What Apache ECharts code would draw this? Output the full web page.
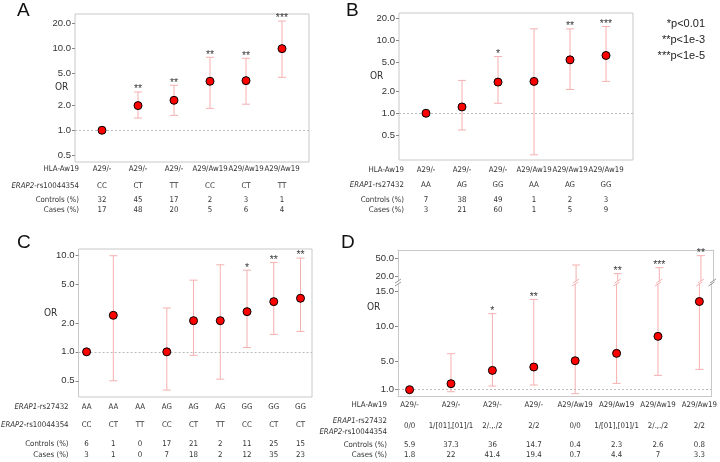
<!DOCTYPE html>
<html>
<head>
<meta charset="utf-8">
<script src="https://cdn.jsdelivr.net/npm/echarts@6/dist/echarts.min.js"></script>
<style>html,body{margin:0;padding:0;background:#fff}#chart{width:720px;height:462px}</style>
</head>
<body>
<div id="chart"></div>
<script>
// panel A
var aHla = ['A29/-', 'A29/-', 'A29/-', 'A29/Aw19', 'A29/Aw19', 'A29/Aw19'];
var aGeno = ['CC', 'CT', 'TT', 'CC', 'CT', 'TT'];
var aControls = ['32', '45', '17', '2', '3', '1'];
var aCases = ['17', '48', '20', '5', '6', '4'];
var aOR = [1.0, 2.0, 2.32, 3.96, 4.03, 9.9];
var aLow = [null, 1.41, 1.52, 1.85, 2.08, 4.43];
var aHigh = [null, 2.93, 3.54, 7.77, 7.55, 21.5];
var aStars = ['', '**', '**', '**', '**', '***'];

// panel B
var bHla = ['A29/-', 'A29/-', 'A29/-', 'A29/Aw19', 'A29/Aw19', 'A29/Aw19'];
var bGeno = ['AA', 'AG', 'GG', 'AA', 'AG', 'GG'];
var bControls = ['7', '38', '49', '1', '2', '3'];
var bCases = ['3', '21', '60', '1', '5', '9'];
var bOR = [1.0, 1.22, 2.67, 2.73, 5.39, 6.18];
var bLow = [null, 0.59, 1.37, 0.27, 2.12, 2.73];
var bHigh = [null, 2.82, 5.99, 14.3, 14.3, 15.4];
var bStars = ['', '', '*', '', '**', '***'];

// panel C
var cErap1 = ['AA', 'AA', 'AA', 'AG', 'AG', 'AG', 'GG', 'GG', 'GG'];
var cErap2 = ['CC', 'CT', 'TT', 'CC', 'CT', 'TT', 'CC', 'CT', 'CT'];
var cControls = ['6', '1', '0', '17', '21', '2', '11', '25', '15'];
var cCases = ['3', '1', '0', '7', '18', '2', '12', '35', '23'];
var cOR = [1.0, 2.40, null, 1.0, 2.11, 2.11, 2.62, 3.33, 3.61];
var cLow = [null, 0.50, null, 0.40, 0.92, 0.52, 1.11, 1.52, 1.63];
var cHigh = [null, 10.0, null, 2.86, 5.57, 8.05, 7.08, 8.52, 9.45];
var cStars = ['', '', '', '', '', '', '*', '**', '**'];

// panel D
var dHla = ['A29/-', 'A29/-', 'A29/-', 'A29/-', 'A29/Aw19', 'A29/Aw19', 'A29/Aw19', 'A29/Aw19'];
var dGeno = ['0/0', '1/[01],[01]/1', '2/.,./2', '2/2', '0/0', '1/[01],[01]/1', '2/.,./2', '2/2'];
var dControls = ['5.9', '37.3', '36', '14.7', '0.4', '2.3', '2.6', '0.8'];
var dCases = ['1.8', '22', '41.4', '19.4', '0.7', '4.4', '7', '3.3'];
var dOR = [1.0, 1.86, 3.76, 4.24, 5.14, 6.19, 8.62, 13.6];
var dLow = [null, 0.71, 1.52, 1.67, 0.43, 1.90, 3.05, 3.9];
var dHigh = [null, 6.14, 11.86, 13.9, 35.8, 23.2, 31.3, 57.0];
var dStars = ['', '', '*', '**', '', '**', '***', '**'];

var logTicks = [0.5, 1, 2, 5, 10, 20];
var dLowerTicks = [1, 5, 10, 15];
var dUpperTicks = [20, 50];
var sigNotes = ['*p<0.01', '**p<1e-3', '***p<1e-5'];

var FONT = '"Liberation Sans", Arial, sans-serif';
var NARROW = '"DejaVu Sans Condensed", "Liberation Sans Narrow", sans-serif';
var errColor = '#f5b0b0';
var boxColor = '#c8c8c8';
var BREAK = 16.1; // top of the linear part of D

var grid = [], xAxis = [], yAxis = [], series = [];

function idx(n) {
    var a = [];
    for (var i = 0; i < n; i++) a.push(i);
    return a;
}

function slash(x, y, color) {
    return {type: 'line', shape: {x1: x - 3, y1: y + 2, x2: x + 3, y2: y - 2}, style: {stroke: color, lineWidth: 1}};
}

// error bar, clipped to the grid; a clipped end gets a break mark
function renderErr(params, api) {
    var cs = params.coordSys;
    var x = api.value(0);
    var top = api.coord([x, api.value(2)]);
    var bot = api.coord([x, api.value(1)]);
    var px = top[0];
    var y1 = Math.max(top[1], cs.y), y2 = Math.min(bot[1], cs.y + cs.height);
    if (y1 >= y2) return;
    var ch = [{type: 'line', shape: {x1: px, y1: y1, x2: px, y2: y2}, style: {stroke: errColor, lineWidth: 1}}];
    if (top[1] >= cs.y) ch.push({type: 'line', shape: {x1: px - 4, y1: top[1], x2: px + 4, y2: top[1]}, style: {stroke: errColor, lineWidth: 1}});
    else ch.push(slash(px, cs.y, errColor));
    if (bot[1] <= cs.y + cs.height) ch.push({type: 'line', shape: {x1: px - 4, y1: bot[1], x2: px + 4, y2: bot[1]}, style: {stroke: errColor, lineWidth: 1}});
    else ch.push(slash(px, cs.y + cs.height, errColor));
    return {type: 'group', children: ch};
}

function rowAxis(gi, p, r) {
    return {
        type: 'value', gridIndex: gi, min: p.xMin, max: p.xMax, position: 'bottom', offset: r.offset,
        axisLine: {show: false, onZero: false}, axisTick: {show: false}, splitLine: {show: false},
        axisLabel: {
            customValues: idx(r.labels.length), margin: 0, verticalAlign: 'middle',
            fontFamily: NARROW, fontSize: 7.8, color: '#333',
            formatter: function (v) { return r.labels[Math.round(v)]; }
        },
        name: r.name, nameLocation: 'start', nameGap: p.nameGap,
        nameTextStyle: {fontFamily: NARROW, fontSize: 7.8, color: '#333', align: 'right', verticalAlign: 'middle',
            lineHeight: 10.5, rich: {i: {fontStyle: 'italic', fontFamily: NARROW, fontSize: 7.8, color: '#333', lineHeight: 10.5}}}
    };
}

function pointSeries(xi, yi, or) {
    var pts = [];
    or.forEach(function (v, i) { if (v != null) pts.push([i, v]); });
    return {
        type: 'scatter', xAxisIndex: xi, yAxisIndex: yi, data: pts, symbolSize: 8, z: 5,
        itemStyle: {color: '#ff0000', borderColor: '#000', borderWidth: 1, opacity: 1}
    };
}

function refLine() {
    return {silent: true, symbol: ['none', 'none'], label: {show: false},
        lineStyle: {type: [2, 2], color: '#bbb', width: 1}, data: [{yAxis: 1}]};
}

function errSeries(xi, yi, low, high, keep) {
    var d = [];
    low.forEach(function (v, i) { if (v != null && (!keep || keep(high[i]))) d.push([i, v, high[i]]); });
    return {type: 'custom', xAxisIndex: xi, yAxisIndex: yi, data: d, z: 2, renderItem: renderErr, encode: {x: 0, y: [1, 2]}};
}

function starSeries(xi, yi, high, stars, keep) {
    var d = [];
    stars.forEach(function (s, i) { if (s && (!keep || keep(high[i]))) d.push([i, high[i], s]); });
    return {
        type: 'scatter', xAxisIndex: xi, yAxisIndex: yi, data: d, symbolSize: 0, z: 6,
        label: {show: true, position: 'top', distance: 0, offset: [0, 3], fontFamily: FONT, fontSize: 10.5, color: '#000',
            formatter: function (p) { return p.value[2]; }}
    };
}

function addLogPanel(p) {
    var gi = grid.length;
    grid.push({left: p.left, top: p.top, width: p.width, height: p.height, show: true,
        borderColor: boxColor, borderWidth: 1, backgroundColor: 'transparent'});
    var xi = xAxis.length;
    xAxis.push({type: 'value', gridIndex: gi, min: p.xMin, max: p.xMax, show: false, axisLine: {onZero: false}});
    p.rows.forEach(function (r) { xAxis.push(rowAxis(gi, p, r)); });
    var yi = yAxis.length;
    yAxis.push({
        type: 'log', logBase: 10, gridIndex: gi, min: p.yMin, max: p.yMax,
        axisLine: {show: false, onZero: false}, splitLine: {show: false},
        axisTick: {show: true, customValues: logTicks, length: 3, lineStyle: {color: '#888'}},
        axisLabel: {customValues: logTicks, margin: 4, fontFamily: FONT, fontSize: 9.5, color: '#333',
            formatter: function (v) { return v.toFixed(1); }}
    });
    series.push(errSeries(xi, yi, p.low, p.high));
    var pts = pointSeries(xi, yi, p.or);
    pts.markLine = refLine();
    series.push(pts);
    series.push(starSeries(xi, yi, p.high, p.stars));
}

addLogPanel({
    left: 75, top: 14, width: 234, height: 148, xMin: -0.75, xMax: 5.75, yMin: 0.41, yMax: 26.2, nameGap: -4,
    or: aOR, low: aLow, high: aHigh, stars: aStars,
    rows: [
        {name: 'HLA-Aw19', labels: aHla, offset: 7.3},
        {name: '{i|ERAP2}-rs10044354', labels: aGeno, offset: 23.5},
        {name: 'Controls (%)', labels: aControls, offset: 37.8},
        {name: 'Cases (%)', labels: aCases, offset: 48}
    ]
});

addLogPanel({
    left: 399, top: 13, width: 234, height: 147, xMin: -0.75, xMax: 5.75, yMin: 0.229, yMax: 23.6, nameGap: -5,
    or: bOR, low: bLow, high: bHigh, stars: bStars,
    rows: [
        {name: 'HLA-Aw19', labels: bHla, offset: 9.7},
        {name: '{i|ERAP1}-rs27432', labels: bGeno, offset: 25},
        {name: 'Controls (%)', labels: bControls, offset: 39.7},
        {name: 'Cases (%)', labels: bCases, offset: 49.7}
    ]
});

addLogPanel({
    left: 76, top: 249, width: 236, height: 148, xMin: -0.3, xMax: 8.43, yMin: 0.339, yMax: 11.75, nameGap: 10,
    or: cOR, low: cLow, high: cHigh, stars: cStars,
    rows: [
        {name: '{i|ERAP1}-rs27432', labels: cErap1, offset: 9.9},
        {name: '{i|ERAP2}-rs10044354', labels: cErap2, offset: 27.6},
        {name: 'Controls (%)', labels: cControls, offset: 46.6},
        {name: 'Cases (%)', labels: cCases, offset: 57.6}
    ]
});

// panel D: log part on top, linear part below, with a break between
var dp = {xMin: -0.28, xMax: 7.29, nameGap: 11};
var guUp = grid.length;
grid.push({left: 398, top: 250, width: 315, height: 31, show: false});
var gLow = grid.length;
grid.push({left: 398, top: 284, width: 315, height: 112.7, show: false});

var xUp = xAxis.length;
xAxis.push({type: 'value', gridIndex: guUp, min: dp.xMin, max: dp.xMax, position: 'top',
    axisLine: {show: true, onZero: false, lineStyle: {color: boxColor}}, axisTick: {show: false}, axisLabel: {show: false}, splitLine: {show: false}});
var xLow = xAxis.length;
xAxis.push({type: 'value', gridIndex: gLow, min: dp.xMin, max: dp.xMax, position: 'bottom',
    axisLine: {show: true, onZero: false, lineStyle: {color: boxColor}}, axisTick: {show: false}, axisLabel: {show: false}, splitLine: {show: false}});
[
    {name: 'HLA-Aw19', labels: dHla, offset: 8.6},
    {name: '{i|ERAP1}-rs27432\n{i|ERAP2}-rs10044354', labels: dGeno, offset: 29.6},
    {name: 'Controls (%)', labels: dControls, offset: 47.8},
    {name: 'Cases (%)', labels: dCases, offset: 57.8}
].forEach(function (r) { xAxis.push(rowAxis(gLow, dp, r)); });

var yUp = yAxis.length;
yAxis.push({type: 'log', logBase: 10, gridIndex: guUp, min: BREAK, max: 75.6,
    axisLine: {show: true, onZero: false, lineStyle: {color: boxColor}}, splitLine: {show: false},
    axisTick: {show: true, customValues: dUpperTicks, length: 3, lineStyle: {color: '#888'}},
    axisLabel: {customValues: dUpperTicks, margin: 4, fontFamily: FONT, fontSize: 9.5, color: '#333',
        formatter: function (v) { return v.toFixed(1); }}});
yAxis.push({type: 'log', logBase: 10, gridIndex: guUp, min: BREAK, max: 75.6, position: 'right',
    axisLine: {show: true, onZero: false, lineStyle: {color: boxColor}}, axisTick: {show: false}, axisLabel: {show: false}, splitLine: {show: false}});
var yLow = yAxis.length;
yAxis.push({type: 'value', gridIndex: gLow, min: 0, max: BREAK,
    axisLine: {show: true, onZero: false, lineStyle: {color: boxColor}}, splitLine: {show: false},
    axisTick: {show: true, customValues: dLowerTicks, length: 3, lineStyle: {color: '#888'}},
    axisLabel: {customValues: dLowerTicks, margin: 4, fontFamily: FONT, fontSize: 9.5, color: '#333',
        formatter: function (v) { return v.toFixed(1); }}});
yAxis.push({type: 'value', gridIndex: gLow, min: 0, max: BREAK, position: 'right',
    axisLine: {show: true, onZero: false, lineStyle: {color: boxColor}}, axisTick: {show: false}, axisLabel: {show: false}, splitLine: {show: false}});

function inUpper(v) { return v > BREAK; }
function inLower(v) { return v <= BREAK; }

series.push(errSeries(xLow, yLow, dLow, dHigh));
series.push(errSeries(xUp, yUp, dLow, dHigh, inUpper));
var dPts = pointSeries(xLow, yLow, dOR);
dPts.markLine = refLine();
series.push(dPts);
series.push(starSeries(xLow, yLow, dHigh, dStars, inLower));
series.push(starSeries(xUp, yUp, dHigh, dStars, inUpper));

// break marks on the box edges
function edgeMarks(xi, yi, atTop, yVal) {
    return {
        type: 'custom', xAxisIndex: xi, yAxisIndex: yi, data: [[0, yVal]], z: 3,
        renderItem: function (params) {
            var cs = params.coordSys;
            var y = atTop ? cs.y : cs.y + cs.height;
            return {type: 'group', children: [slash(cs.x, y, '#999'), slash(cs.x + cs.width, y, '#999')]};
        }
    };
}
series.push(edgeMarks(xUp, yUp, false, 20));
series.push(edgeMarks(xLow, yLow, true, 5));

var letterStyle = {fontFamily: FONT, fontSize: 19, fontWeight: 'normal', color: '#111'};
var orStyle = {fontFamily: NARROW, fontSize: 10, fontWeight: 'normal', color: '#333'};
var noteStyle = {fontFamily: FONT, fontSize: 11, fontWeight: 'normal', color: '#222', lineHeight: 11};

var titles = [
    {text: 'A', left: 17, top: 1, padding: 0, textStyle: letterStyle},
    {text: 'B', left: 346, top: 1, padding: 0, textStyle: letterStyle},
    {text: 'C', left: 17, top: 233, padding: 0, textStyle: letterStyle},
    {text: 'D', left: 341, top: 233, padding: 0, textStyle: letterStyle},
    {text: 'OR', left: 55, top: 82.5, padding: 0, textStyle: orStyle},
    {text: 'OR', left: 370, top: 71, padding: 0, textStyle: orStyle},
    {text: 'OR', left: 44, top: 308, padding: 0, textStyle: orStyle},
    {text: 'OR', left: 367, top: 302.5, padding: 0, textStyle: orStyle}
];
sigNotes.forEach(function (s, i) {
    titles.push({text: s, right: 15, top: 18.5 + i * 16, padding: 0, textStyle: noteStyle});
});

var option = {
    animation: false,
    backgroundColor: '#fff',
    title: titles,
    grid: grid,
    xAxis: xAxis,
    yAxis: yAxis,
    series: series
};

var chart = echarts.init(document.getElementById('chart'), null, {renderer: 'canvas'});
chart.setOption(option);
</script>
</body>
</html>
